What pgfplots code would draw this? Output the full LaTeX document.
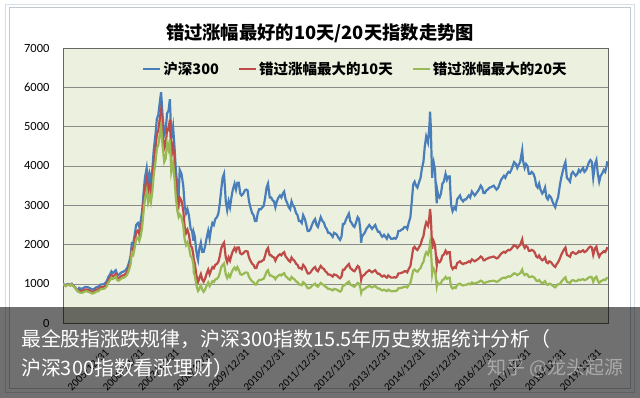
\documentclass[border=0pt]{standalone}
\usepackage{pgfplots}
\pgfplotsset{compat=1.18}
\usepackage{pgfplotstable}
\usepackage{fontspec}
\setmainfont{Carlito}
\newfontfamily\cjk{Noto Sans CJK SC}
\definecolor{hsblue}{HTML}{4A7EBB}
\definecolor{hsred}{HTML}{BE4B48}
\definecolor{hsgreen}{HTML}{98B954}
\definecolor{plotbg}{HTML}{EBF1DE}
\definecolor{gridc}{HTML}{8A8A8A}
\definecolor{framec}{HTML}{BFC9D4}

\pgfplotstableread{
x b r g
2005.00 1000 1000 1000
2005.04 985 975 970
2005.08 960 950 946
2005.13 1000 990 985
2005.17 990 980 975
2005.21 975 965 960
2005.25 1003 993 988
2005.29 960 950 946
2005.33 930 921 916
2005.38 870 861 857
2005.42 830 822 818
2005.46 900 837 792
2005.50 880 818 774
2005.54 880 818 774
2005.58 900 837 792
2005.63 920 856 810
2005.67 925 860 814
2005.71 915 851 805
2005.75 900 837 792
2005.79 880 818 774
2005.83 860 800 757
2005.88 870 809 766
2005.92 900 837 792
2005.96 923 858 812
2006.00 923 858 812
2006.04 960 893 845
2006.08 990 921 871
2006.13 990 921 871
2006.17 1000 930 880
2006.21 1030 958 906
2006.25 1080 1004 950
2006.29 1180 1097 1038
2006.33 1230 1144 1082
2006.38 1320 1228 1162
2006.42 1280 1190 1126
2006.46 1310 1218 1153
2006.50 1350 1256 1188
2006.54 1250 1163 1100
2006.58 1230 1144 1082
2006.63 1270 1181 1118
2006.67 1300 1209 1144
2006.71 1310 1218 1153
2006.75 1330 1237 1170
2006.79 1360 1265 1197
2006.83 1420 1321 1250
2006.88 1550 1442 1364
2006.92 1700 1581 1496
2006.96 2041 1898 1796
2007.00 2041 1888 1745
2007.04 2250 2081 1924
2007.08 2500 2313 2138
2007.13 2550 2359 2180
2007.17 2450 2266 2095
2007.21 2600 2405 2223
2007.25 2850 2636 2437
2007.29 3300 3053 2822
2007.33 3700 3423 3164
2007.38 3950 3654 3377
2007.42 3600 3330 3078
2007.46 3800 3515 3249
2007.50 3600 3330 3078
2007.54 3900 3608 3335
2007.58 4400 4070 3762
2007.63 4800 4440 4104
2007.67 5200 4810 4446
2007.71 5300 4903 4532
2007.75 5600 5180 4788
2007.79 5877 5436 5025
2007.83 5300 4903 4532
2007.88 4800 4440 4104
2007.92 4900 4533 4190
2007.96 5338 4938 4564
2008.00 5400 4914 4428
2008.04 5697 5184 4672
2008.08 4700 4277 3854
2008.13 5000 4550 4100
2008.17 4500 4095 3690
2008.21 3900 3549 3198
2008.25 3500 3185 2870
2008.29 3300 3003 2706
2008.32 3900 3198 2769
2008.37 3800 3116 2698
2008.42 3500 2870 2485
2008.46 3000 2460 2130
2008.50 2800 2296 1988
2008.54 2900 2378 2059
2008.58 2750 2255 1953
2008.63 2400 1968 1704
2008.67 2350 1927 1669
2008.71 2100 1722 1491
2008.72 2300 1610 1288
2008.75 2200 1518 1210
2008.79 1850 1240 981
2008.83 1640 1074 845
2008.84 1607 1045 820
2008.86 1800 1098 846
2008.88 1900 1159 893
2008.92 2050 1251 964
2008.96 1817 1108 854
2009.00 1820 1056 801
2009.04 1950 1131 858
2009.08 2150 1247 946
2009.13 2350 1363 1034
2009.17 2150 1247 946
2009.21 2400 1344 1008
2009.25 2550 1428 1071
2009.29 2500 1400 1050
2009.33 2650 1484 1113
2009.38 2700 1512 1134
2009.42 2800 1568 1176
2009.46 3050 1708 1281
2009.50 3400 1904 1428
2009.54 3700 1998 1480
2009.58 3800 2052 1520
2009.63 3100 1674 1240
2009.67 2880 1555 1152
2009.71 3100 1674 1240
2009.75 2950 1593 1180
2009.79 3200 1728 1280
2009.83 3400 1836 1360
2009.88 3550 1917 1420
2009.92 3400 1836 1360
2009.96 3575 1931 1430
2010.00 3575 1931 1359
2010.04 3300 1782 1254
2010.08 3250 1755 1235
2010.13 3300 1782 1254
2010.17 3380 1825 1284
2010.21 3400 1836 1292
2010.25 3380 1825 1284
2010.29 3100 1674 1178
2010.33 2950 1593 1121
2010.38 2800 1512 1064
2010.42 2750 1485 1045
2010.46 2600 1404 988
2010.50 2600 1404 988
2010.54 2800 1512 1064
2010.58 2900 1566 1102
2010.63 2900 1566 1102
2010.67 2950 1593 1121
2010.71 2990 1615 1136
2010.75 3200 1728 1216
2010.79 3450 1863 1311
2010.83 3550 1917 1349
2010.88 3200 1728 1216
2010.92 3200 1728 1216
2010.96 3128 1689 1189
2011.00 3100 1674 1178
2011.04 2950 1593 1121
2011.08 3100 1674 1178
2011.13 3200 1728 1216
2011.17 3250 1755 1235
2011.21 3200 1728 1216
2011.25 3300 1782 1254
2011.29 3350 1809 1273
2011.33 3150 1701 1197
2011.38 3050 1647 1159
2011.42 2950 1593 1121
2011.46 2900 1566 1102
2011.50 3100 1674 1178
2011.54 3000 1620 1140
2011.58 2950 1593 1121
2011.63 2800 1512 1064
2011.67 2750 1485 1045
2011.71 2600 1404 988
2011.75 2600 1404 988
2011.79 2550 1377 969
2011.83 2750 1485 1045
2011.88 2650 1431 1007
2011.92 2500 1350 950
2011.96 2346 1267 891
2012.00 2346 1267 891
2012.04 2400 1296 912
2012.08 2500 1350 950
2012.13 2600 1404 988
2012.17 2650 1431 1007
2012.21 2500 1350 950
2012.25 2450 1323 931
2012.29 2580 1393 980
2012.33 2700 1458 1026
2012.38 2600 1404 988
2012.42 2560 1382 973
2012.46 2450 1323 931
2012.50 2400 1296 912
2012.54 2300 1242 874
2012.58 2300 1242 874
2012.63 2250 1215 855
2012.67 2200 1188 836
2012.71 2300 1242 874
2012.75 2280 1231 866
2012.79 2250 1215 855
2012.83 2180 1177 828
2012.88 2120 1145 806
2012.92 2200 1188 836
2012.96 2523 1362 959
2013.00 2523 1362 959
2013.04 2620 1415 996
2013.08 2700 1458 1026
2013.13 2790 1507 1060
2013.17 2600 1404 988
2013.21 2550 1377 969
2013.25 2480 1339 942
2013.29 2450 1323 931
2013.33 2550 1377 969
2013.38 2700 1458 1026
2013.42 2650 1431 1007
2013.46 2350 1269 893
2013.48 2050 1107 779
2013.50 2200 1188 836
2013.54 2250 1215 855
2013.58 2300 1242 874
2013.63 2400 1296 912
2013.67 2450 1323 931
2013.71 2500 1350 950
2013.75 2450 1323 931
2013.79 2400 1296 912
2013.83 2450 1323 931
2013.88 2500 1350 950
2013.92 2400 1296 912
2013.96 2330 1258 885
2014.00 2330 1258 885
2014.04 2250 1215 855
2014.08 2200 1188 836
2014.13 2250 1215 855
2014.17 2200 1188 836
2014.21 2150 1161 817
2014.25 2250 1215 855
2014.29 2200 1188 836
2014.33 2150 1161 817
2014.38 2150 1161 817
2014.42 2170 1172 825
2014.46 2150 1161 817
2014.50 2200 1188 836
2014.54 2350 1269 893
2014.58 2350 1269 893
2014.63 2380 1285 904
2014.67 2400 1296 912
2014.71 2450 1323 931
2014.75 2450 1323 931
2014.79 2400 1296 912
2014.83 2550 1377 969
2014.88 2700 1458 1026
2014.92 3100 1674 1178
2014.96 3533 1908 1343
2015.00 3600 1944 1368
2015.04 3500 1890 1330
2015.08 3450 1863 1311
2015.13 3600 1944 1368
2015.17 3700 1998 1406
2015.21 3950 2133 1501
2015.25 4100 2214 1558
2015.29 4500 2430 1710
2015.33 4750 2565 1805
2015.38 4600 2484 1748
2015.42 5000 2700 1900
2015.44 5380 2905 2044
2015.46 5000 2700 1900
2015.48 4300 2301 1613
2015.50 3700 1887 1258
2015.52 4000 2040 1360
2015.54 4100 2091 1394
2015.58 3900 1989 1326
2015.60 3500 1785 1190
2015.63 3050 1479 946
2015.65 3350 1625 1039
2015.67 3250 1576 1008
2015.71 3200 1552 992
2015.75 3300 1601 1023
2015.79 3550 1722 1101
2015.83 3600 1746 1116
2015.88 3800 1843 1178
2015.92 3650 1770 1132
2015.96 3731 1810 1157
2016.00 3731 1810 1157
2016.02 3300 1601 1023
2016.04 3000 1455 930
2016.08 2850 1382 884
2016.13 2950 1431 915
2016.17 2900 1407 899
2016.21 3150 1528 977
2016.25 3200 1552 992
2016.29 3250 1576 1008
2016.33 3150 1528 977
2016.38 3100 1504 961
2016.42 3150 1528 977
2016.46 3150 1528 977
2016.50 3200 1552 992
2016.54 3250 1576 1008
2016.58 3200 1552 992
2016.63 3350 1625 1039
2016.67 3300 1601 1023
2016.71 3250 1576 1008
2016.75 3300 1601 1023
2016.79 3350 1625 1039
2016.83 3400 1649 1054
2016.88 3500 1698 1085
2016.92 3450 1673 1070
2016.96 3310 1605 1026
2017.00 3310 1605 1026
2017.04 3380 1639 1048
2017.08 3400 1649 1054
2017.13 3450 1673 1070
2017.17 3460 1678 1073
2017.21 3480 1688 1079
2017.25 3500 1698 1085
2017.29 3450 1673 1070
2017.33 3400 1649 1054
2017.38 3450 1673 1070
2017.42 3550 1722 1101
2017.46 3650 1770 1132
2017.50 3700 1795 1147
2017.54 3750 1819 1163
2017.58 3700 1795 1147
2017.63 3800 1843 1178
2017.67 3850 1867 1194
2017.71 3830 1858 1187
2017.75 3900 1892 1209
2017.79 4000 1940 1240
2017.83 4100 1989 1271
2017.88 4050 1964 1256
2017.92 3950 1916 1225
2017.96 4030 1955 1249
2018.00 4100 1989 1271
2018.04 4300 2086 1333
2018.06 4400 2134 1364
2018.08 4150 2013 1287
2018.13 3950 1916 1225
2018.17 4050 1964 1256
2018.21 4000 1940 1240
2018.25 3800 1843 1178
2018.29 3800 1843 1178
2018.33 3850 1867 1194
2018.38 3800 1843 1178
2018.42 3700 1795 1147
2018.46 3500 1698 1085
2018.50 3450 1673 1070
2018.54 3550 1722 1101
2018.58 3400 1649 1054
2018.63 3300 1601 1023
2018.67 3350 1625 1039
2018.71 3450 1673 1070
2018.75 3200 1552 992
2018.79 3150 1528 977
2018.83 3250 1576 1008
2018.88 3200 1552 992
2018.92 3100 1504 961
2018.96 3010 1460 933
2019.00 2950 1431 915
2019.04 3100 1504 961
2019.08 3200 1552 992
2019.13 3500 1645 998
2019.17 3700 1739 1055
2019.21 3850 1810 1097
2019.25 4000 1880 1140
2019.29 4100 1927 1169
2019.33 3700 1739 1055
2019.38 3650 1716 1040
2019.42 3600 1692 1026
2019.46 3800 1786 1083
2019.50 3850 1810 1097
2019.54 3800 1786 1083
2019.58 3750 1763 1069
2019.63 3800 1786 1083
2019.67 3900 1833 1112
2019.71 3850 1810 1097
2019.75 3900 1833 1112
2019.79 3950 1857 1126
2019.83 3850 1810 1097
2019.88 3900 1833 1112
2019.92 4000 1880 1140
2019.96 4097 1926 1168
2020.00 4150 1951 1183
2020.04 4100 1927 1169
2020.08 3700 1739 1055
2020.13 4050 1904 1154
2020.17 4150 1951 1183
2020.21 3800 1786 1083
2020.25 3600 1692 1026
2020.29 3750 1763 1069
2020.33 3800 1786 1083
2020.38 3900 1833 1112
2020.42 3850 1810 1097
2020.46 4000 1880 1140
2020.48 4120 1936 1174
}\data

\begin{document}
\begin{tikzpicture}
\path[use as bounding box] (0pt,0pt) rectangle (640pt,398pt);
\fill[white] (0pt,0pt) rectangle (640pt,398pt);
\draw[framec, line width=1pt] (9.5pt,9.5pt) rectangle (630.5pt,390.5pt);
\draw[framec!60, line width=0.8pt] (5.5pt,5.5pt) rectangle (634.5pt,393.5pt);
\node[font=\cjk\bfseries\fontsize{18.3}{18.3}\selectfont] at (320pt,365pt) {错过涨幅最好的10天/20天指数走势图};
\begin{axis}[
  at={(63pt,74.7pt)}, anchor=south west, scale only axis,
  width=545pt, height=275.3pt,
  xmin=2005, xmax=2020.5, ymin=0, ymax=7000,
  axis background/.style={fill=plotbg},
  ymajorgrids, grid style={color=gridc, line width=0.8pt},
  ytick={0,1000,...,7000},
  xtick={2006,...,2020},
  xticklabels={2005/12/31,2006/12/31,2007/12/31,2008/12/31,2009/12/31,2010/12/31,2011/12/31,2012/12/31,2013/12/31,2014/12/31,2015/12/31,2016/12/31,2017/12/31,2018/12/31,2019/12/31},
  tick style={draw=none},
  axis line style={draw=gray!80!black, line width=0.8pt},
  scaled y ticks=false,
  /pgf/number format/1000 sep={},
  /pgf/number format/assume math mode=true,
  yticklabel style={font=\fontsize{12.5}{12.5}\selectfont, xshift=-10pt},
  xticklabel style={font=\fontsize{11}{11}\selectfont, rotate=45, anchor=east, yshift=-26pt, xshift=-10pt},
  legend columns=3,
  legend style={at={(axis description cs:0.145,0.924)}, anchor=west, draw=none, fill=none, inner sep=0pt,
    font=\cjk\bfseries\fontsize{14.5}{14.5}\selectfont,
    /tikz/every even column/.append style={column sep=17pt}},
  legend image code/.code={\draw[#1] (0pt,0pt) -- (17pt,0pt);},
]
\addplot[hsblue, line width=2.2pt] table[x=x,y=b]{\data};
\addlegendentry{沪深300}
\addplot[hsred, line width=2.2pt] table[x=x,y=r]{\data};
\addlegendentry{错过涨幅最大的10天}
\addplot[hsgreen, line width=2.2pt] table[x=x,y=g]{\data};
\addlegendentry{错过涨幅最大的20天}
\end{axis}
\fill[black, opacity=0.56] (0pt,0pt) rectangle (640pt,91pt);
\node[anchor=west, white, inner sep=0pt, font=\cjk\fontsize{19.9}{19.9}\selectfont] at (21pt,59pt) {最全股指涨跌规律，沪深300指数15.5年历史数据统计分析（};
\node[anchor=west, white, inner sep=0pt, font=\cjk\fontsize{19.9}{19.9}\selectfont] at (21pt,30pt) {沪深300指数看涨理财）};
\node[anchor=east, white, opacity=0.4, inner sep=0pt, font=\cjk\fontsize{19}{19}\selectfont] at (624pt,30pt) {知乎 @龙头起源};
\end{tikzpicture}
\end{document}
